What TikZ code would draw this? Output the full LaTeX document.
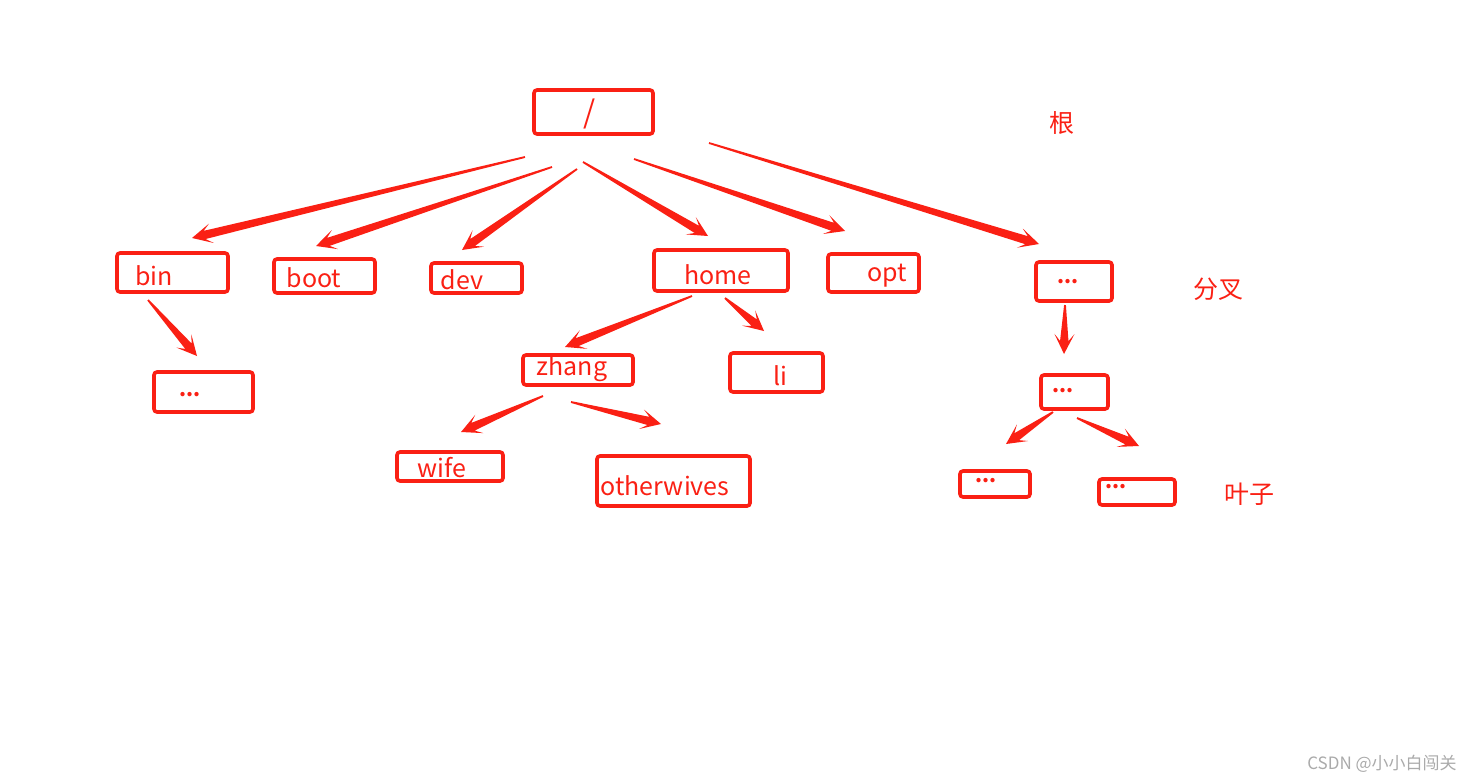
\documentclass[tikz,border=0pt]{standalone}
\usepackage{fontspec}
\setmainfont{Noto Sans CJK SC}
\usetikzlibrary{calc}
\definecolor{rd}{RGB}{250,32,20}
\definecolor{wm}{RGB}{170,170,170}
\tikzset{
  box/.style={draw=rd, line width=3.6pt, rounded corners=3pt, inner sep=0pt},
  lbl/.style={text=rd, font=\fontsize{25}{28}\selectfont, inner sep=0pt},
  dots/.style={text=rd, font=\fontsize{20}{22}\selectfont\bfseries, inner sep=0pt},
  cn/.style={text=rd, font=\fontsize{25}{28}\selectfont, inner sep=0pt},
  arr/.style={fill=rd}
}
\newcommand{\tarrow}[2]{%
  \fill[arr] ($(#1)!0.9pt!90:(#2)$) --
    ($($(#2)!13pt!(#1)$)!4.2pt!90:(#2)$) --
    ($($(#2)!20pt!(#1)$)!10pt!90:(#2)$) --
    (#2) --
    ($($(#2)!20pt!(#1)$)!10pt!-90:(#2)$) --
    ($($(#2)!13pt!(#1)$)!4.2pt!-90:(#2)$) --
    ($(#1)!0.9pt!-90:(#2)$) -- cycle;}
\begin{document}
\begin{tikzpicture}[x=1pt,y=-1pt]
\useasboundingbox (0,0) rectangle (1483,782);
% boxes
\node[box, minimum width=119, minimum height=44] (root) at (593.5,112) {};
\node[box, minimum width=111, minimum height=39] (bin) at (172.5,272.5) {};
\node[box, minimum width=101, minimum height=34] (boot) at (324.5,276) {};
\node[box, minimum width=91, minimum height=30] (dev) at (476.5,278) {};
\node[box, minimum width=134, minimum height=41] (home) at (721,270.5) {};
\node[box, minimum width=91, minimum height=38] (opt) at (873.5,273) {};
\node[box, minimum width=76, minimum height=39] (r1) at (1074,281.5) {};
\node[box, minimum width=99, minimum height=40] (binc) at (203.5,392) {};
\node[box, minimum width=110, minimum height=30] (zhang) at (578,370) {};
\node[box, minimum width=93, minimum height=39] (li) at (776.5,372.5) {};
\node[box, minimum width=106, minimum height=29] (wife) at (450,466.5) {};
\node[box, minimum width=153, minimum height=50] (ow) at (673.5,481) {};
\node[box, minimum width=67, minimum height=34] (r2) at (1074.5,392) {};
\node[box, minimum width=70, minimum height=26] (l1) at (995,484) {};
\node[box, minimum width=76, minimum height=26] (l2) at (1137,492) {};
% texts
\node[lbl, font=\fontsize{31}{34}\selectfont] (troot) at (590,114) {/};
\node[lbl] (tbin) at (154,276) {bin};
\node[lbl] (tboot) at (314,278) {boot};
\node[lbl] (tdev) at (462,280) {dev};
\node[lbl] (thome) at (718,275) {home};
\node[lbl] (topt) at (887,276) {opt};
\node[dots] (tr1) at (1068,282) {...};
\node[dots] (tbinc) at (190,395) {...};
\node[lbl] (tzhang) at (572,369) {zhang};
\node[lbl] (tli) at (780,376) {li};
\node[lbl] (twife) at (442,468) {wife};
\node[lbl] (tow) at (665,486) {otherwives};
\node[dots] (tr2) at (1063,391) {...};
\node[dots] (tl1) at (986,481) {...};
\node[dots] (tl2) at (1116,487) {...};
\node[cn] (gen) at (1062,123) {根};
\node[cn] (fencha) at (1218,289) {分叉};
\node[cn] (yezi) at (1249,494) {叶子};
\node[text=wm, font=\fontsize{17}{20}\selectfont, inner sep=0pt] (wmk) at (1382,764) {CSDN @小小白闯关};
% arrow end points
\coordinate (s1) at (525,157); \coordinate (e1) at (192,238);
\coordinate (s2) at (552,167); \coordinate (e2) at (316,246);
\coordinate (s3) at (577,169); \coordinate (e3) at (462,250);
\coordinate (s4) at (583,162); \coordinate (e4) at (708,236);
\coordinate (s5) at (634,159); \coordinate (e5) at (845,231);
\coordinate (s6) at (709,143); \coordinate (e6) at (1039,244);
\coordinate (s7) at (148,300); \coordinate (e7) at (197,356);
\coordinate (s8) at (692,296); \coordinate (e8) at (565,347);
\coordinate (s9) at (725,298); \coordinate (e9) at (764,331);
\coordinate (s10) at (543,396); \coordinate (e10) at (461,432);
\coordinate (s11) at (571,402); \coordinate (e11) at (661,424);
\coordinate (s12) at (1065,305); \coordinate (e12) at (1064,354);
\coordinate (s13) at (1053,412); \coordinate (e13) at (1006,444);
\coordinate (s14) at (1077,418); \coordinate (e14) at (1139,446);
\tarrow{s1}{e1}
\tarrow{s2}{e2}
\tarrow{s3}{e3}
\tarrow{s4}{e4}
\tarrow{s5}{e5}
\tarrow{s6}{e6}
\tarrow{s7}{e7}
\tarrow{s8}{e8}
\tarrow{s9}{e9}
\tarrow{s10}{e10}
\tarrow{s11}{e11}
\tarrow{s12}{e12}
\tarrow{s13}{e13}
\tarrow{s14}{e14}
\end{tikzpicture}
\end{document}
